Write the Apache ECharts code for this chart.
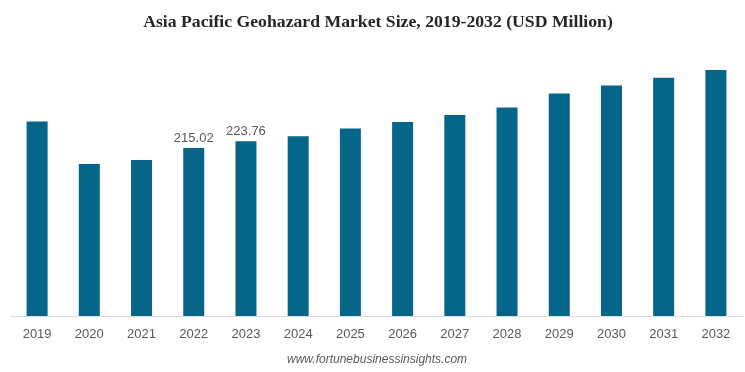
<!DOCTYPE html>
<html>
<head>
<meta charset="utf-8">
<script src="https://cdn.jsdelivr.net/npm/echarts@6/dist/echarts.min.js"></script>
<style>
html,body{margin:0;padding:0;background:#fff;}
#chart{width:745px;height:372px;}
</style>
</head>
<body>
<div id="chart"></div>
<script>
var categories = ['2019','2020','2021','2022','2023','2024','2025','2026','2027','2028','2029','2030','2031','2032'];
var values = [249.0, 194.7, 199.9, 215.02, 223.76, 230.3, 240.0, 248.3, 257.3, 267.0, 285.0, 295.3, 305.1, 315.0];
var labelledYears = ['2022','2023'];

var chart = echarts.init(document.getElementById('chart'));
chart.setOption({
  animation: false,
  backgroundColor: '#ffffff',
  title: {
    text: 'Asia Pacific Geohazard Market Size, 2019-2032 (USD Million)',
    left: 373, top: 8, textAlign: 'center',
    textStyle: { fontFamily: 'Liberation Serif, Times New Roman, serif', fontWeight: 'bold', fontSize: 17.7, color: '#262626' }
  },
  graphic: [{
    type: 'text', left: 287, top: 354,
    style: { text: 'www.fortunebusinessinsights.com', font: 'italic 12px "Liberation Sans", Arial, sans-serif', fill: '#595959' }
  }],
  grid: { left: 11, right: 3, top: 70, bottom: 56, containLabel: false },
  xAxis: {
    type: 'category',
    data: categories,
    axisLine: { lineStyle: { color: '#d9d9d9', width: 1 } },
    axisTick: { show: false },
    axisLabel: { color: '#595959', fontSize: 13, fontFamily: 'Liberation Sans, Arial, sans-serif', margin: 12 }
  },
  yAxis: {
    type: 'value', min: 0, max: 315,
    show: false,
    splitLine: { show: false }
  },
  series: [{
    type: 'bar',
    data: values.map(function (v, i) {
      return {
        value: v,
        label: { show: labelledYears.indexOf(categories[i]) >= 0 }
      };
    }),
    barWidth: 21,
    itemStyle: { color: '#056689' },
    label: {
      position: 'top', distance: 3, color: '#595959', fontSize: 13,
      fontFamily: 'Liberation Sans, Arial, sans-serif'
    }
  }]
});
</script>
</body>
</html>
